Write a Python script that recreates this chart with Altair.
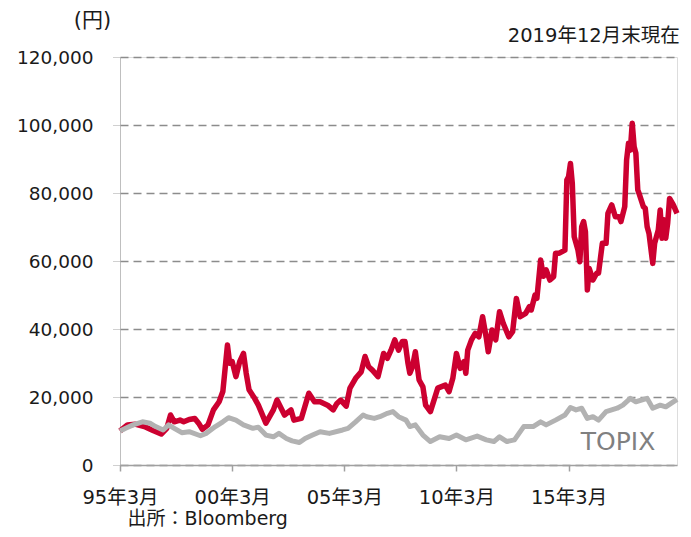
import altair as alt
import pandas as pd

# Stock price (yen)
stock_dates = [
    "1995-03-01", "1995-07-01", "1995-11-01", "1996-04-01", "1996-08-01", "1997-01-01",
    "1997-04-01", "1997-06-01", "1997-08-01", "1997-11-01", "1998-01-01", "1998-04-01",
    "1998-07-01", "1998-09-01", "1998-11-01", "1999-02-01", "1999-05-01", "1999-08-01",
    "1999-10-01", "1999-12-15", "2000-01-20", "2000-03-01", "2000-05-01", "2000-07-01",
    "2000-09-01", "2000-10-15", "2000-12-01", "2001-03-01", "2001-05-01", "2001-09-01",
    "2002-01-01", "2002-03-01", "2002-07-01", "2002-10-15", "2002-12-01", "2003-04-01",
    "2003-08-01", "2003-11-01", "2004-02-01", "2004-06-01", "2004-09-01", "2004-11-01",
    "2005-01-01", "2005-04-01", "2005-06-01", "2005-09-01", "2005-12-01", "2006-02-01",
    "2006-04-01", "2006-06-01", "2006-09-01", "2006-12-01", "2007-02-01", "2007-04-01",
    "2007-06-01", "2007-08-01", "2007-10-01", "2007-11-15", "2008-01-01", "2008-02-01",
    "2008-03-15", "2008-05-01", "2008-07-01", "2008-09-01", "2008-10-15", "2009-01-01",
    "2009-03-01", "2009-05-01", "2009-09-01", "2009-11-01", "2010-01-01", "2010-03-01",
    "2010-05-01", "2010-07-01", "2010-08-01", "2010-09-01", "2010-11-01", "2011-01-01",
    "2011-03-01", "2011-05-01", "2011-07-01", "2011-08-01", "2011-10-01", "2011-12-01",
    "2012-02-01", "2012-04-01", "2012-07-01", "2012-09-01", "2012-11-01", "2013-01-01",
    "2013-04-01", "2013-06-01", "2013-07-01", "2013-09-01", "2013-10-01", "2013-12-01",
    "2014-01-15", "2014-03-01", "2014-05-01", "2014-07-01", "2014-08-01", "2014-10-01",
    "2015-01-01", "2015-02-01", "2015-03-01", "2015-04-01", "2015-05-01", "2015-06-01",
    "2015-08-01", "2015-09-01", "2015-10-01", "2015-11-01", "2015-12-01", "2016-01-01",
    "2016-02-01", "2016-04-01", "2016-06-01", "2016-07-01", "2016-09-01", "2016-11-01",
    "2016-12-01", "2017-02-01", "2017-04-01", "2017-06-01", "2017-07-01", "2017-09-01",
    "2017-10-01", "2017-11-01", "2017-12-01", "2018-01-01", "2018-02-01", "2018-03-01",
    "2018-04-01", "2018-05-01", "2018-07-01", "2018-08-01", "2018-09-01", "2018-10-01",
    "2018-12-01", "2019-01-01", "2019-03-01", "2019-04-01", "2019-05-01", "2019-06-01",
    "2019-07-01", "2019-08-01", "2019-09-01", "2019-11-01", "2019-12-31",
]
stock_values = [
    10000, 11800, 12000, 11300, 10300, 9100,
    10800, 14700, 12700, 13200, 12700, 13400,
    13700, 12300, 10500, 11800, 16200, 18600,
    21600, 35300, 29900, 30400, 26000, 30400,
    32800, 27000, 22100, 19600, 17600, 12300,
    16200, 19100, 14700, 16200, 13200, 13700,
    21100, 18600, 18600, 17600, 16200, 18100,
    19100, 17300, 22600, 25500, 27400, 31900,
    28900, 27900, 26000, 32800, 31400, 33800,
    36800, 33800, 36300, 36300, 30000, 27000,
    28900, 33300, 25000, 23000, 17600, 15700,
    19100, 22600, 23500, 21600, 25500, 32800,
    28400, 30400, 27000, 33800, 36800, 38700,
    37700, 43600, 37300, 33300, 39700, 36800,
    45100, 41700, 37700, 39200, 49000, 43600,
    44600, 46600, 45600, 50000, 49000, 60300,
    55500, 57400, 54400, 55400, 62300, 62300,
    63200, 83800, 84800, 88700, 82800, 67100,
    63200, 59800, 70100, 71600, 68600, 51500,
    57800, 54400, 56400, 56400, 65200, 65200,
    74000, 76500, 73000, 73000, 71600, 76000,
    89700, 94600, 92600, 100500, 93600, 91700,
    80900, 79400, 76000, 75500, 70100, 68100,
    59300, 65200, 69100, 75000, 66700, 72100,
    66700, 71100, 78400, 76500, 74000,
]

# TOPIX, indexed to the stock price at the start
topix_dates = [
    "1995-03-01", "1995-06-01", "1995-10-01", "1996-03-01", "1996-07-01", "1996-10-01",
    "1997-02-01", "1997-05-01", "1997-08-01", "1997-12-01", "1998-04-01", "1998-10-01",
    "1999-01-01", "1999-06-01", "1999-10-01", "2000-01-01", "2000-05-01", "2000-09-01",
    "2001-02-01", "2001-05-01", "2001-09-01", "2002-01-01", "2002-04-01", "2002-08-01",
    "2002-11-01", "2003-03-01", "2003-06-01", "2003-10-01", "2004-02-01", "2004-07-01",
    "2005-02-01", "2005-05-01", "2005-09-01", "2006-01-01", "2006-03-01", "2006-07-01",
    "2006-10-01", "2007-02-01", "2007-05-01", "2007-08-01", "2007-12-01", "2008-02-01",
    "2008-05-01", "2008-09-01", "2009-01-01", "2009-06-01", "2009-11-01", "2010-03-01",
    "2010-08-01", "2011-02-01", "2011-07-01", "2011-11-01", "2012-02-01", "2012-06-01",
    "2012-10-01", "2013-03-01", "2013-08-01", "2013-12-01", "2014-03-01", "2014-08-01",
    "2015-01-01", "2015-04-01", "2015-07-01", "2015-10-01", "2016-01-01", "2016-04-01",
    "2016-07-01", "2016-11-01", "2017-05-01", "2017-08-01", "2017-12-01", "2018-03-01",
    "2018-09-01", "2018-12-01", "2019-04-01", "2019-07-01", "2019-12-31",
]
topix_values = [
    10000, 10800, 11800, 12700, 12300, 11300,
    10300, 11800, 10800, 9500, 9800, 8600,
    9300, 11300, 12700, 13900, 13200, 11800,
    10800, 11100, 8800, 8300, 9300, 7800,
    7100, 6600, 7800, 8800, 9800, 9300,
    10300, 10800, 12700, 14700, 14200, 13700,
    14200, 15200, 15700, 14200, 13200, 11300,
    11800, 8800, 6900, 8300, 7800, 8800,
    7400, 8500, 7400, 6900, 8300, 6900,
    7400, 11300, 11300, 12700, 11800, 13200,
    14700, 16900, 16200, 16700, 13700, 14200,
    13200, 15700, 16700, 17600, 19600, 18600,
    19600, 16700, 17600, 17100, 19300,
]

y_ticks = [0, 20000, 40000, 60000, 80000, 100000, 120000]
x_tick_years = [1995, 2000, 2005, 2010, 2015]

label_df = pd.DataFrame({"date": ["2017-05-15"], "value": [6800], "label": ["TOPIX"]})

stock_df = pd.DataFrame({"date": stock_dates, "value": stock_values})
topix_df = pd.DataFrame({"date": topix_dates, "value": topix_values})

FONT = "DejaVu Sans, Noto Sans CJK JP, sans-serif"
TEXT = "#1a1a1a"
AXIS_GREY = "#a0a0a0"

x_enc = alt.X(
    "date:T",
    scale=alt.Scale(
        type="utc",
        domain=[alt.DateTime(year=1995, month=3, date=1, utc=True),
                alt.DateTime(year=2019, month=12, date=31, utc=True)],
    ),
    axis=alt.Axis(
        values=[alt.DateTime(year=y, month=3, date=1, utc=True) for y in x_tick_years],
        labelExpr="utcFormat(datum.value, '%y年%-m月')",
        labelFlush=False, labelOverlap=False,
        grid=False,
        domainColor=AXIS_GREY, domainWidth=1.5,
        tickColor=AXIS_GREY, tickWidth=1.5, tickSize=6,
        labelFontSize=19.5, labelFont=FONT, labelColor=TEXT, labelPadding=17,
        title="出所：Bloomberg", titleFont=FONT, titleFontSize=19,
        titleFontWeight="normal", titleColor=TEXT,
        titleX=7, titleY=59, titleAlign="left", titleBaseline="alphabetic",
    ),
)
y_enc = alt.Y(
    "value:Q",
    scale=alt.Scale(domain=[0, 120000], nice=False),
    axis=alt.Axis(
        values=y_ticks, format=",.0f",
        grid=True, gridDash=[8, 5], gridColor="#8c8c8c", gridWidth=1.5,
        domainColor=AXIS_GREY, domainDash=[1, 1], domainWidth=1,
        tickColor=AXIS_GREY, tickDash=[1, 1], tickSize=7,
        labelFontSize=18.5, labelFont=FONT, labelColor=TEXT, labelPadding=20,
        title="(円)", titleFont=FONT, titleFontSize=21, titleFontWeight="normal",
        titleColor=TEXT, titleAngle=0, titleX=-28, titleY=-37,
        titleAlign="center", titleBaseline="middle",
    ),
)

stock_line = alt.Chart(stock_df).mark_line(
    color="#cc0030", strokeWidth=5.5, strokeJoin="round"
).encode(x=x_enc, y=y_enc)

topix_line = alt.Chart(topix_df).mark_line(
    color="#b2b2b2", strokeWidth=5, strokeJoin="round"
).encode(x="date:T", y="value:Q")

topix_label = alt.Chart(label_df).mark_text(
    font=FONT, fontSize=25, color="#808080", align="center", baseline="middle"
).encode(x="date:T", y="value:Q", text="label:N")

chart = alt.layer(stock_line, topix_line, topix_label).properties(
    width=557,
    height=408,
    title=alt.TitleParams(
        "2019年12月末現在", anchor="end", font=FONT, fontSize=19.5,
        fontWeight="normal", color=TEXT, offset=10, dy=47,
    ),
    autosize=alt.AutoSizeParams(type="none"),
    padding={"left": 112, "top": 49, "right": 6, "bottom": 64},
).configure_view(stroke=None).configure(background="white")

chart.save("out.html", embed_options={"renderer": "svg", "actions": False})
